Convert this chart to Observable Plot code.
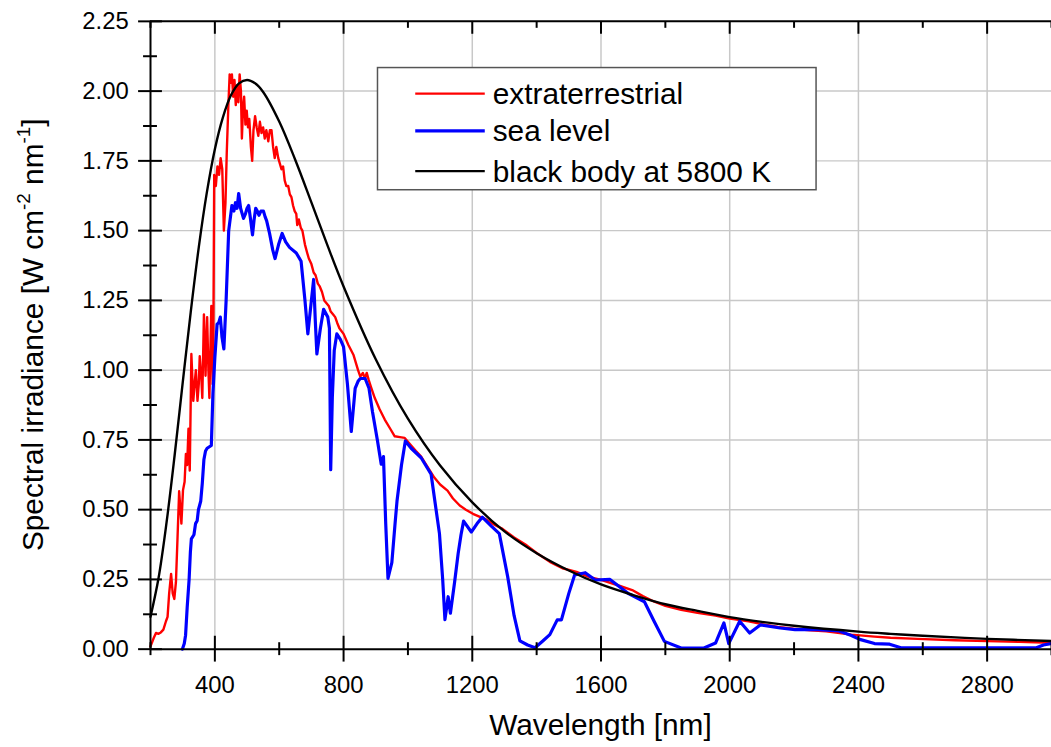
<!DOCTYPE html>
<html><head><meta charset="utf-8">
<script src="https://cdn.jsdelivr.net/npm/d3@7"></script>
<script src="https://cdn.jsdelivr.net/npm/@observablehq/plot@0.6"></script>
<style>
html,body{margin:0;padding:0;background:#fff;overflow:hidden;}
#wrap{width:1051px;height:747px;overflow:hidden;}
</style></head><body><div id="wrap"></div>
<script>
// ---- data ----
const etWavelength = [200,210,217,225,232,240,248,253,258,264,269,274,279,284,289,296,301,306,310,314,318,322,327,333,337,341,346,350,353,358,361,366,371,376,380,383,389,393,395,398,403,408,413,418,423,428,433,437,442,446,450,453,457,461,465,469,473,477,481,484,488,491,495,499,503,507,512,516,520,525,530,535,540,545,550,555,560,566,571,576,581,586,591,597,602,607,612,617,622,628,633,638,643,648,653,656,661,667,672,680,687,692,700,707,713,720,726,733,740,747,754,760,767,774,780,787,800,815,831,845,852,860,866,872,878,885,897,912,928,945,959,975,990,1010,1025,1041,1060,1082,1100,1123,1140,1161,1180,1202,1222,1243,1270,1294,1330,1369,1400,1441,1480,1524,1560,1600,1650,1697,1730,1766,1800,1849,1900,1956,2000,2059,2100,2150,2198,2250,2300,2378,2450,2500,2584,2700,2800,2900,3000];
const etIrradiance = [0.01,0.04,0.058,0.055,0.06,0.07,0.1,0.116,0.2,0.27,0.2,0.18,0.24,0.4,0.566,0.45,0.57,0.6,0.7,0.66,0.79,0.64,1.058,0.89,0.95,1.0,0.89,0.95,1.05,0.97,0.9,1.2,0.98,1.19,1.0,0.9,1.23,0.95,1.05,1.7,1.66,1.73,1.7,1.76,1.72,1.5,1.6,1.78,1.95,2.06,2.03,2.06,1.98,2.04,1.95,2.02,1.96,2.06,2.0,1.83,1.95,1.98,1.88,1.93,1.87,1.9,1.8,1.75,1.86,1.91,1.87,1.84,1.89,1.85,1.87,1.83,1.86,1.82,1.86,1.86,1.8,1.76,1.8,1.76,1.74,1.72,1.73,1.68,1.66,1.66,1.63,1.62,1.59,1.57,1.56,1.52,1.54,1.51,1.5,1.45,1.42,1.4,1.38,1.35,1.34,1.31,1.3,1.28,1.25,1.24,1.23,1.21,1.2,1.19,1.17,1.15,1.13,1.09,1.054,1.0,0.977,0.99,0.97,0.99,0.965,0.94,0.9,0.86,0.823,0.79,0.763,0.76,0.757,0.73,0.71,0.69,0.655,0.615,0.59,0.568,0.54,0.515,0.5,0.485,0.475,0.465,0.445,0.431,0.4,0.372,0.345,0.313,0.29,0.277,0.26,0.248,0.23,0.212,0.19,0.17,0.155,0.141,0.13,0.12,0.11,0.1,0.09,0.08,0.073,0.068,0.064,0.052,0.045,0.041,0.037,0.032,0.029,0.026,0.023];

const slWavelength = [299,305,309,314,320,324,327,335,340,345,349,356,361,366,371,376,389,394,400,407,412,417,422,428,435,443,453,459,464,469,474,480,489,495,500,505,511,517,522,527,532,537,543,551,556,561,570,580,587,598,609,620,632,653,668,680,689,700,707,712,717,728,738,751,756,760,765,771,779,790,800,812,824,836,845,852,867,879,890,905,917,924,931,938,950,960,966,980,992,1010,1041,1072,1085,1098,1108,1115,1125,1132,1145,1156,1165,1173,1197,1215,1231,1260,1284,1310,1330,1348,1372,1395,1420,1441,1464,1477,1500,1518,1551,1582,1628,1684,1735,1765,1797,1849,1920,1956,1982,1997,2031,2062,2095,2157,2203,2275,2340,2378,2404,2450,2497,2532,2953,2975,3000];
const slIrradiance = [0,0.02,0.05,0.15,0.25,0.35,0.395,0.41,0.45,0.46,0.5,0.53,0.595,0.68,0.71,0.72,0.73,0.916,1.046,1.165,1.17,1.19,1.12,1.076,1.25,1.5,1.59,1.57,1.6,1.58,1.633,1.58,1.544,1.56,1.58,1.59,1.54,1.485,1.54,1.58,1.57,1.555,1.57,1.57,1.55,1.535,1.49,1.43,1.4,1.45,1.49,1.46,1.44,1.42,1.39,1.25,1.13,1.25,1.325,1.18,1.058,1.15,1.218,1.19,1.15,0.643,0.9,1.07,1.13,1.11,1.083,0.95,0.78,0.935,0.96,0.97,0.97,0.935,0.85,0.75,0.663,0.69,0.45,0.254,0.31,0.45,0.53,0.66,0.746,0.72,0.686,0.627,0.52,0.414,0.25,0.106,0.188,0.129,0.24,0.342,0.41,0.459,0.42,0.45,0.473,0.44,0.414,0.26,0.12,0.03,0.015,0.005,0.03,0.052,0.105,0.105,0.2,0.266,0.274,0.248,0.25,0.2,0.17,0.1,0.028,0.004,0.004,0.022,0.094,0.02,0.1,0.058,0.087,0.076,0.07,0.07,0.065,0.049,0.035,0.02,0.018,0.005,0.005,0.015,0.02];

const bbWavelength = [200,225,250,275,300,325,350,375,400,425,450,475,500,525,550,600,650,700,750,800,900,1000,1100,1200,1300,1400,1500,1600,1700,1800,1900,2000,2100,2200,2400,2500,2600,2800,3000];
const bbIrradiance = [0.116,0.255,0.455,0.695,0.954,1.208,1.44,1.636,1.792,1.906,1.985,2.028,2.04,2.028,1.997,1.891,1.753,1.601,1.447,1.3,1.039,0.826,0.658,0.526,0.422,0.344,0.282,0.232,0.194,0.161,0.137,0.115,0.098,0.084,0.063,0.055,0.048,0.037,0.029];

const seriesNames = ["extraterrestrial", "sea level", "black body at 5800 K"];
const seriesColors = ["#ff0000", "#0000ff", "#000000"];
const seriesWidths = [2.4, 3.2, 2.4];

const xMajorTicks = [400, 800, 1200, 1600, 2000, 2400, 2800];
const xMinorTicks = [200, 600, 1000, 1400, 1800, 2200, 2600, 3000];
const yMajorTicks = [0, 0.25, 0.5, 0.75, 1.0, 1.25, 1.5, 1.75, 2.0, 2.25];
const yMinorTicks = [0.125, 0.375, 0.625, 0.875, 1.125, 1.375, 1.625, 1.875, 2.125];
const xTitle = "Wavelength [nm]";
const yTitleParts = ["Spectral irradiance [W cm", "-2", " nm", "-1", "]"];

// ---- build tables ----
const et = etWavelength.map((x, i) => ({x, y: etIrradiance[i]}));
const sl = slWavelength.map((x, i) => ({x, y: slIrradiance[i]}));
const bb = bbWavelength.map((x, i) => ({x, y: bbIrradiance[i]}));

const font = "Arial, 'Liberation Sans', sans-serif";
const grid = "#c8c8c8";

const chart = Plot.plot({
  width: 1058, height: 747,
  marginLeft: 151, marginRight: 0, marginTop: 21, marginBottom: 94,
  x: {domain: [200, 3000], axis: null},
  y: {domain: [0, 2.25], axis: null},
  style: {fontFamily: font, background: "white", color: "black"},
  marks: [
    Plot.gridX(xMajorTicks, {stroke: grid, strokeOpacity: 1, strokeWidth: 1.5}),
    Plot.gridY(yMajorTicks.filter(v => v > 0 && v < 2.25), {stroke: grid, strokeOpacity: 1, strokeWidth: 1.5}),
    Plot.line(et, {x: "x", y: "y", stroke: seriesColors[0], strokeWidth: seriesWidths[0]}),
    Plot.line(sl, {x: "x", y: "y", stroke: seriesColors[1], strokeWidth: seriesWidths[1], strokeLinejoin: "round"}),
    Plot.line(bb, {x: "x", y: "y", stroke: seriesColors[2], strokeWidth: seriesWidths[2], curve: "catmull-rom"}),
    Plot.ruleY([0], {stroke: "black", strokeWidth: 2}),
    Plot.ruleY([2.25], {stroke: "black", strokeWidth: 2}),
    Plot.ruleX([200], {stroke: "black", strokeWidth: 2}),
    // bottom ticks (crossing)
    Plot.axisX(xMajorTicks, {anchor: "bottom", tickSize: 26, dy: -13, fill: "none", strokeWidth: 2, label: null}),
    Plot.axisX(xMinorTicks, {anchor: "bottom", tickSize: 13, dy: -6.5, fill: "none", strokeWidth: 2, label: null}),
    Plot.axisX(xMajorTicks, {anchor: "bottom", tickSize: 0, tickPadding: 27, fontSize: 24, tickFormat: d3.format("d"), label: null}),
    // top ticks (inward)
    Plot.axisX(xMajorTicks, {anchor: "top", tickSize: 12, dy: 12, fill: "none", strokeWidth: 2, label: null}),
    Plot.axisX(xMinorTicks, {anchor: "top", tickSize: 6, dy: 6, fill: "none", strokeWidth: 2, label: null}),
    // left ticks (crossing)
    Plot.axisY(yMajorTicks, {anchor: "left", tickSize: 24, dx: 12, fill: "none", strokeWidth: 2, label: null}),
    Plot.axisY(yMinorTicks, {anchor: "left", tickSize: 14, dx: 7, fill: "none", strokeWidth: 2, label: null}),
    Plot.axisY(yMajorTicks, {anchor: "left", tickSize: 0, tickPadding: 22, fontSize: 24, tickFormat: d3.format(".2f"), label: null})
  ]
});

document.getElementById("wrap").appendChild(chart);
const svg = d3.select(chart);

// x title
svg.append("text").attr("x", 604.5).attr("y", 740).attr("text-anchor", "middle")
  .attr("font-size", 30).attr("fill", "black").text(xTitle);

// y title with superscripts
const yt = svg.append("text").attr("transform", "translate(43,337) rotate(-90)")
  .attr("text-anchor", "middle").attr("font-size", 30).attr("fill", "black");
yTitleParts.forEach((t, i) => {
  const sup = i === 1 || i === 3;
  const ts = yt.append("tspan").text(t);
  if (sup) ts.attr("font-size", 19).attr("dy", -13);
  else if (i > 0) ts.attr("dy", 13);
});

// legend
const lg = svg.append("g");
lg.append("rect").attr("x", 380).attr("y", 68).attr("width", 441.5).attr("height", 123)
  .attr("fill", "white").attr("stroke", "#555").attr("stroke-width", 1.5);
const rowsY = [94.3, 131.7, 172.3];
seriesNames.forEach((name, i) => {
  lg.append("line").attr("x1", 418).attr("x2", 488).attr("y1", rowsY[i]).attr("y2", rowsY[i])
    .attr("stroke", seriesColors[i]).attr("stroke-width", seriesWidths[i]);
  lg.append("text").attr("x", 496).attr("y", rowsY[i] + 10.5).attr("font-size", 30)
    .attr("text-anchor", "start").attr("fill", "black").text(name);
});
</script></body></html>
